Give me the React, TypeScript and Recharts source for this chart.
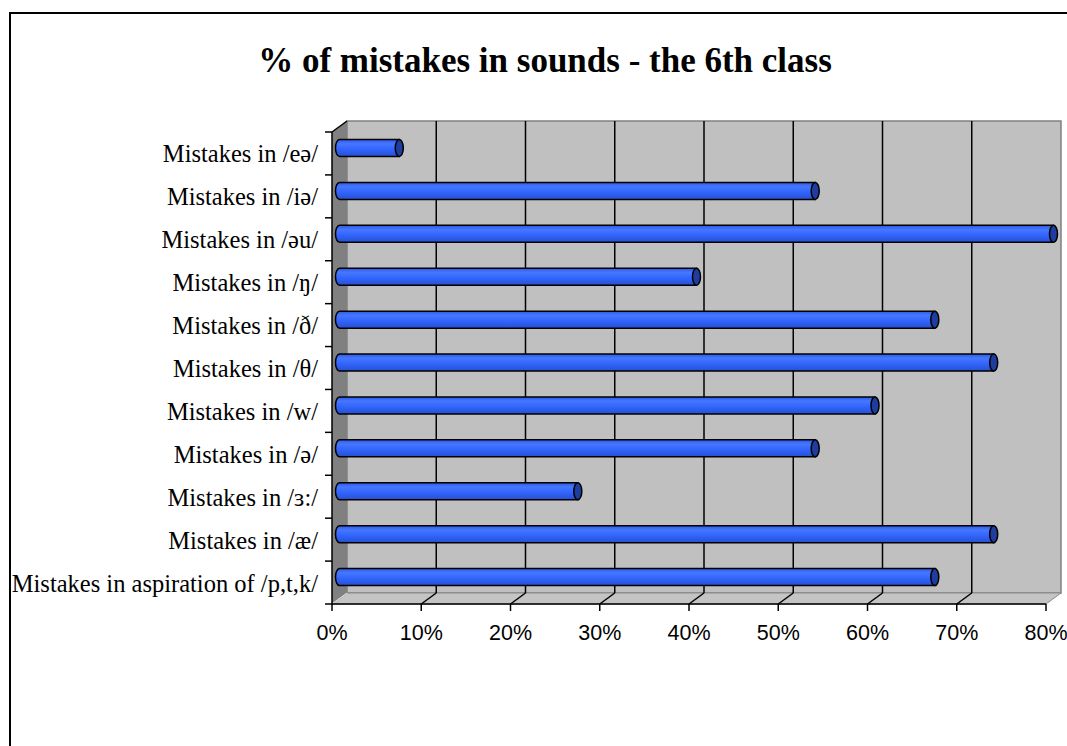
import React from 'react';
import { BarChart, Bar, XAxis, YAxis, CartesianGrid } from 'recharts';

// Sounds, top row first
const SOUNDS = [
    'Mistakes in /eə/',
    'Mistakes in /iə/',
    'Mistakes in /əu/',
    'Mistakes in /ŋ/',
    'Mistakes in /ð/',
    'Mistakes in /θ/',
    'Mistakes in /w/',
    'Mistakes in /ə/',
    'Mistakes in /ɜ:/',
    'Mistakes in /æ/',
    'Mistakes in aspiration of /p,t,k/',
];

// Share of pupils with mistakes, %
const MISTAKES = [6.7, 53.3, 80, 40, 66.7, 73.3, 60, 53.3, 26.7, 73.3, 66.7];

const PERCENT_TICKS = [0, 10, 20, 30, 40, 50, 60, 70, 80];

const data = SOUNDS.map((sound, i) => ({ sound, value: MISTAKES[i] }));

// Layout
const W = 1067;
const H = 746;
const MARGIN = { top: 132, right: 21, bottom: 112, left: 0 };
const Y_AXIS_W = 332;
const X_AXIS_H = 30;
const PL = MARGIN.left + Y_AXIS_W;
const PT = MARGIN.top;
const PR = W - MARGIN.right;
const PB = H - MARGIN.bottom - X_AXIS_H;
const PW = PR - PL;
const PH = PB - PT;

// 3D depth of the walls
const DX = 15;
const DY = -11;

const SERIF = '"Liberation Serif", "Times New Roman", serif';
const SANS = '"Liberation Sans", Arial, sans-serif';

// back wall, side wall and floor under the chart
const Walls = () => {
    const bandH = PH / SOUNDS.length;
    return (
        <svg width={W} height={H} style={{ position: 'absolute', left: 0, top: 0 }}>
            <defs>
                <linearGradient id="tube" x1="0" y1="0" x2="0" y2="1">
                    <stop offset="0%" stopColor="#2d5ae6" />
                    <stop offset="25%" stopColor="#4677ff" />
                    <stop offset="55%" stopColor="#3366ff" />
                    <stop offset="100%" stopColor="#2650d2" />
                </linearGradient>
            </defs>
            <rect x={PL + DX} y={PT + DY} width={PW} height={PH} fill="#c0c0c0" stroke="#808080" strokeWidth={1.5} />
            <polygon
                points={`${PL},${PT} ${PL + DX},${PT + DY} ${PL + DX},${PB + DY} ${PL},${PB}`}
                fill="#808080"
            />
            <polygon
                points={`${PL},${PB} ${PL + DX},${PB + DY} ${PR + DX},${PB + DY} ${PR},${PB}`}
                fill="#c4c4c4"
                stroke="#8a8a8a"
                strokeWidth={1}
            />
            <line x1={PL + 1} y1={PB - 1} x2={PL + DX} y2={PB + DY} stroke="#e0e0e0" strokeWidth={1} />
            <line x1={PL} y1={PT} x2={PL + DX} y2={PT + DY} stroke="#000" strokeWidth={1.5} />
            {Array.from({ length: SOUNDS.length + 1 }, (_, i) => (
                <line key={i} x1={PL - 7} x2={PL} y1={PT + i * bandH} y2={PT + i * bandH} stroke="#000" strokeWidth={1.5} />
            ))}
        </svg>
    );
};

// grid line on the back wall plus its diagonal across the floor
const gridLine = (props: any) => {
    const { x1, y1, y2, index } = props;
    if (Math.abs(x1 - PL) < 1 || Math.abs(x1 - PR) < 1) return <g key={`g-${index}-${x1}`} />;
    return (
        <g key={`g-${index}-${x1}`}>
            <line x1={x1 + DX} y1={y1 + DY} x2={x1 + DX} y2={y2 + DY} stroke="#000" strokeWidth={1.5} />
            <line x1={x1} y1={y2} x2={x1 + DX} y2={y2 + DY} stroke="#000" strokeWidth={1.5} />
        </g>
    );
};

// horizontal tube with a rounded tail and a dark end cap
const Tube = (props: any) => {
    const { x, y, width, height } = props;
    if (width == null || height == null) return null;
    const bx = x + DX / 2;
    const by = y + DY / 2;
    const ex = bx + width;
    const rx = 4;
    const ry = height / 2;
    const d = `M${bx},${by} L${ex},${by} L${ex},${by + height} L${bx},${by + height} A${rx},${ry} 0 0 1 ${bx},${by} Z`;
    return (
        <g>
            <path d={d} fill="url(#tube)" stroke="#000" strokeWidth={1.5} />
            <ellipse cx={ex} cy={by + ry} rx={rx} ry={ry} fill="#1f3d9e" stroke="#000" strokeWidth={1.5} />
        </g>
    );
};

const SoundTick = (props: any) => {
    const { x, y, payload } = props;
    return (
        <text x={x} y={y} dy={9} textAnchor="end" fill="#000" fontFamily={SERIF} fontSize={24.5}>
            {payload.value}
        </text>
    );
};

const App = () => {
    return (
        <div style={{ position: 'absolute', left: 0, top: 0, width: W, height: H, overflow: 'hidden', background: '#fff' }}>
            <div
                style={{
                    position: 'absolute', left: 9, top: 12, width: W, height: H,
                    border: '2px solid #000', boxSizing: 'border-box',
                }}
            />
            <div
                style={{
                    position: 'absolute', left: 0, top: 43, width: 1090, textAlign: 'center',
                    fontFamily: SERIF, fontWeight: 'bold', fontSize: 35, lineHeight: '35px', color: '#000',
                }}
            >
                % of mistakes in sounds - the 6th class
            </div>
            <Walls />
            <div style={{ position: 'absolute', left: 0, top: 0 }}>
                <BarChart width={W} height={H} data={data} layout="vertical" margin={MARGIN} barSize={17}>
                    <CartesianGrid horizontal={false} vertical={gridLine} />
                    <XAxis
                        type="number"
                        domain={[0, 80]}
                        ticks={PERCENT_TICKS}
                        tickFormatter={(v) => `${v}%`}
                        height={X_AXIS_H}
                        tickSize={7}
                        tickMargin={14}
                        axisLine={{ stroke: '#000', strokeWidth: 1.5 }}
                        tickLine={{ stroke: '#000', strokeWidth: 1.5 }}
                        tick={{ fill: '#000', fontSize: 21.5, fontFamily: SANS }}
                        interval={0}
                    />
                    <YAxis
                        type="category"
                        dataKey="sound"
                        width={Y_AXIS_W}
                        tickSize={0}
                        tickMargin={14}
                        tickLine={false}
                        axisLine={{ stroke: '#000', strokeWidth: 1.5 }}
                        tick={<SoundTick />}
                        interval={0}
                    />
                    <Bar dataKey="value" shape={<Tube />} isAnimationActive={false} />
                </BarChart>
            </div>
        </div>
    );
};

export default App;
